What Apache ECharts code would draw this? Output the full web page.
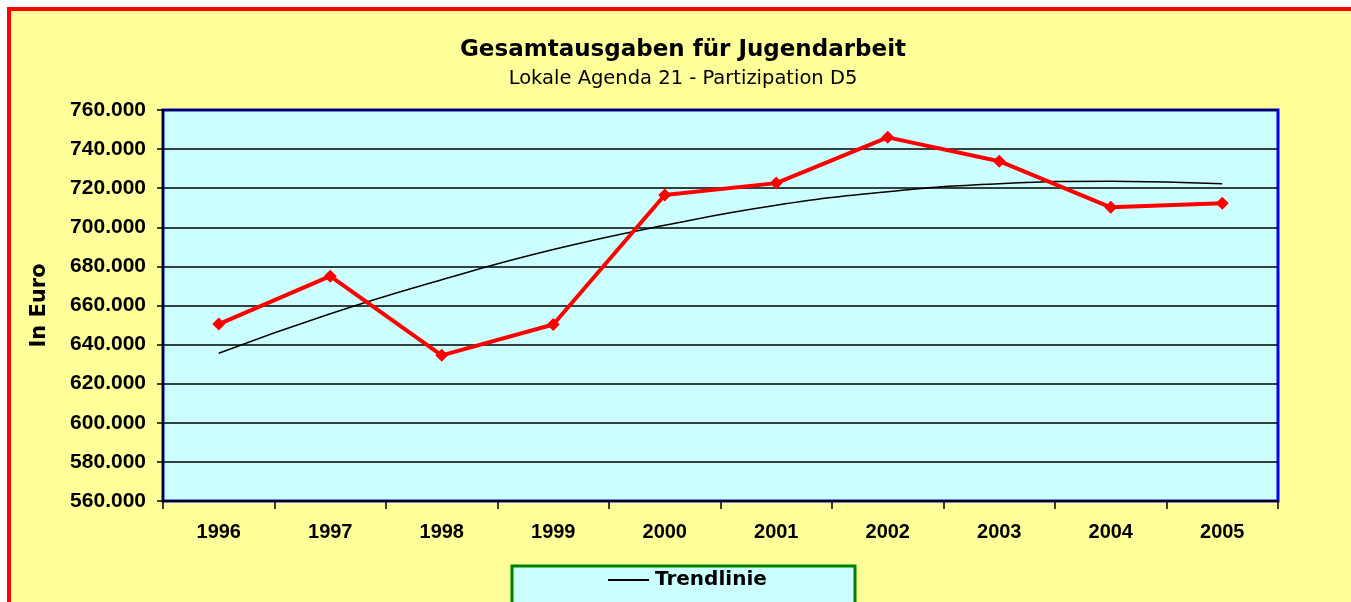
<!DOCTYPE html>
<html>
<head>
<meta charset="utf-8">
<script src="https://cdn.jsdelivr.net/npm/echarts@6/dist/echarts.min.js"></script>
<style>
  html, body { margin: 0; padding: 0; background: #ffffff; }
  #chart { width: 1351px; height: 602px; }
</style>
</head>
<body>
<div id="chart"></div>
<script>
  const jahre = ['1996', '1997', '1998', '1999', '2000', '2001', '2002', '2003', '2004', '2005'];
  const ausgaben = [650500, 675000, 634500, 650300, 716500, 722600, 746000, 733800, 710200, 712300];
  const trendlinie = [635600, 655800, 673200, 688600, 701000, 711300, 718200, 722300, 723600, 722300];

  function euro(v) {
    const tausend = Math.floor(v / 1000);
    return tausend + '.' + String(v % 1000).padStart(3, '0');
  }

  const chart = echarts.init(document.getElementById('chart'));
  const arial = 'Arial, "Liberation Sans", sans-serif';
  const breit = '"DejaVu Sans", Verdana, sans-serif';

  chart.setOption({
    backgroundColor: '#ffffff',
    animation: false,
    graphic: [
      { type: 'rect', z: -10, silent: true, shape: { x: 7, y: 7, width: 1400, height: 700 }, style: { fill: '#ff0000' } },
      { type: 'rect', z: -9, silent: true, shape: { x: 11, y: 11, width: 1400, height: 700 }, style: { fill: '#ffff99' } },
      { type: 'rect', z: -8, silent: true, shape: { x: 512, y: 566, width: 343, height: 60 }, style: { fill: '#ccffff', stroke: '#008000', lineWidth: 3 } }
    ],
    title: [
      {
        text: 'Gesamtausgaben für Jugendarbeit',
        left: 683,
        textAlign: 'center',
        top: 39,
        padding: 0,
        textStyle: { fontFamily: breit, fontSize: 23, fontWeight: 'bold', color: '#000' }
      },
      {
        text: 'Lokale Agenda 21 - Partizipation D5',
        left: 683,
        textAlign: 'center',
        top: 69,
        padding: 0,
        textStyle: { fontFamily: breit, fontSize: 19.5, fontWeight: 'normal', color: '#000' }
      }
    ],
    legend: {
      data: ['Trendlinie'],
      left: 608,
      top: 570,
      padding: 0,
      itemWidth: 41,
      itemHeight: 2,
      itemGap: 5,
      icon: 'rect',
      textStyle: { fontFamily: breit, fontSize: 20, fontWeight: 'bold', color: '#000', padding: [0, 0, 0, 1] }
    },
    grid: {
      left: 163,
      right: 73,
      top: 110,
      bottom: 101,
      show: true,
      backgroundColor: '#ccffff',
      borderColor: '#0000ff',
      borderWidth: 3
    },
    xAxis: {
      type: 'category',
      data: jahre,
      boundaryGap: true,
      axisLine: { lineStyle: { color: '#000', width: 1.5 } },
      axisTick: { show: true, length: 8, lineStyle: { color: '#000', width: 1.5 } },
      axisLabel: { fontFamily: arial, fontSize: 20, fontWeight: 'bold', color: '#000', margin: 21 }
    },
    yAxis: {
      type: 'value',
      min: 560000,
      max: 760000,
      interval: 20000,
      name: 'In Euro',
      nameLocation: 'middle',
      nameGap: 113,
      nameRotate: 90,
      nameTextStyle: { fontFamily: breit, fontSize: 21, fontWeight: 'bold', color: '#000' },
      axisLine: { show: true, lineStyle: { color: '#000', width: 1.5 } },
      axisTick: { show: true, length: 6, lineStyle: { color: '#000', width: 1.5 } },
      axisLabel: { fontFamily: arial, fontSize: 21, fontWeight: 'bold', color: '#000', margin: 17, formatter: euro },
      splitLine: { show: true, lineStyle: { color: '#000', width: 1.5 } }
    },
    series: [
      {
        name: 'Ausgaben',
        type: 'line',
        data: ausgaben,
        symbol: 'diamond',
        symbolSize: 13,
        z: 3,
        lineStyle: { color: '#ff0000', width: 4 },
        itemStyle: { color: '#ff0000' }
      },
      {
        name: 'Trendlinie',
        type: 'line',
        data: trendlinie,
        smooth: true,
        symbol: 'none',
        z: 2,
        lineStyle: { color: '#000', width: 1.5 },
        itemStyle: { color: '#000' }
      }
    ]
  });
</script>
</body>
</html>
